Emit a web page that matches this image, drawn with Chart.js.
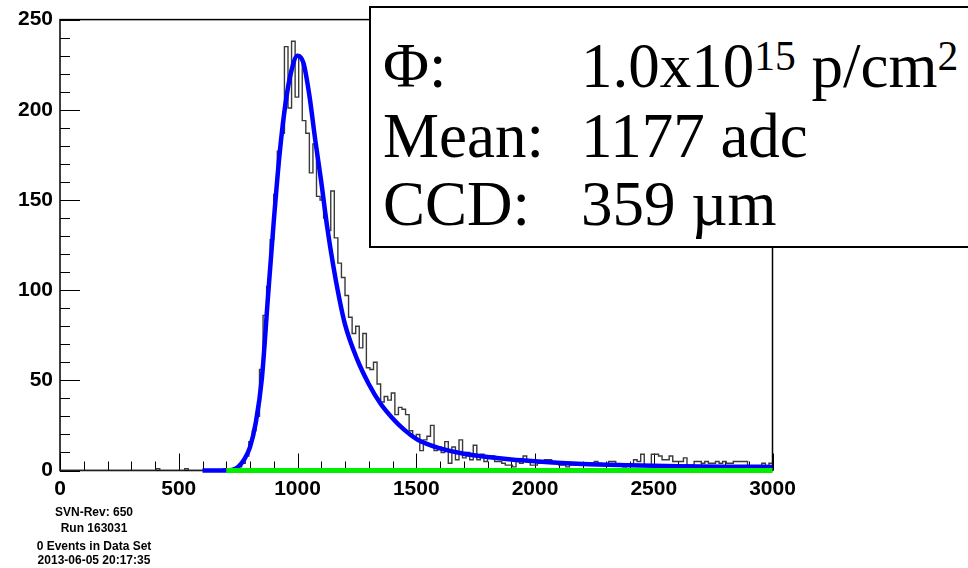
<!DOCTYPE html>
<html>
<head>
<meta charset="utf-8">
<title>adc</title>
<script src="https://cdn.jsdelivr.net/npm/chart.js@4.4.0/dist/chart.umd.min.js"></script>
<style>
    html, body { margin: 0; padding: 0; background: #fff; overflow: hidden; }
    #wrap { position: relative; width: 968px; height: 568px; overflow: hidden; }
    #graf { position: absolute; left: 0; top: 0; }
    #stats {
        position: absolute; left: 369px; top: 6px; width: 640px; height: 238px;
        border: 2px solid #000; background: #fff; color: #000;
        font-family: "Liberation Serif", "Times New Roman", serif;
    }
    .linha { position: absolute; left: 12px; font-size: 63px; line-height: 1; white-space: nowrap; }
    .linha .val { position: absolute; left: 198px; top: 0; }
    .linha sup { font-size: 0.66em; vertical-align: baseline; position: relative; top: -0.42em; }
    .rodape {
        position: absolute; left: 14px; width: 160px; text-align: center;
        font: bold 12px "Liberation Sans", Arial, sans-serif; line-height: 12px; color: #000;
    }
</style>
</head>
<body>
<div id="wrap">
    <canvas id="graf" width="968" height="568"></canvas>
    <div id="stats">
        <div class="linha" style="top:27px">&Phi;:<span class="val">1.0x10<sup>15</sup> p/cm<sup>2</sup></span></div>
        <div class="linha" style="top:97px">Mean:<span class="val">1177 adc</span></div>
        <div class="linha" style="top:165px">CCD:<span class="val">359 &micro;m</span></div>
    </div>
    <div class="rodape" style="top:506px">SVN-Rev: 650</div>
    <div class="rodape" style="top:522px">Run 163031</div>
    <div class="rodape" style="top:540px">0 Events in Data Set</div>
    <div class="rodape" style="top:554px">2013-06-05 20:17:35</div>
</div>
<script>
// histograma de 0 a 3000 adc, bins de 15
const BIN = 15;
const contagens = [
    0, 0, 0, 0, 0, 0, 0, 0, 0, 0,        // 0-135
    0, 0, 0, 0, 0, 0, 0, 0, 0, 0,        // 150-285
    0, 0, 0, 0, 0, 0, 0, 1, 0, 0,        // 300-435
    0, 0, 0, 0, 0, 1, 0, 0, 0, 0,        // 450-585
    0, 0, 0, 0, 0, 0, 1, 0, 0, 1,        // 600-735
    2, 4, 8, 16, 22, 30, 56, 86, 102, 128,   // 750-885
    153, 177, 187, 235, 201, 238, 207, 229, 194, 187, // 900-1035
    165, 181, 152, 150, 140, 133, 155, 129, 115, 107, // 1050-1185
    97, 85, 76, 80, 68, 76, 57, 56, 60, 48,  // 1200-1335
    38, 41, 39, 43, 31, 35, 34, 31, 22, 18,  // 1350-1485
    20, 11, 17, 19, 25, 11, 13, 10, 16, 4,   // 1500-1635
    13, 6, 17, 7, 10, 6, 14, 6, 9, 5,        // 1650-1785
    8, 8, 5, 5, 4, 3, 3, 2, 5, 4,            // 1800-1935
    8, 6, 3, 3, 4, 4, 6, 6, 5, 4,            // 1950-2085
    3, 3, 2, 3, 3, 3, 4, 4, 3, 4,            // 2100-2235
    5, 4, 3, 3, 5, 5, 3, 3, 2, 3,            // 2250-2385
    3, 6, 5, 9, 3, 3, 9, 9, 8, 6,            // 2400-2535
    6, 8, 5, 5, 5, 7, 3, 3, 5, 5,            // 2550-2685
    4, 5, 4, 4, 5, 4, 5, 4, 4, 5,            // 2700-2835
    5, 5, 5, 2, 2, 2, 2, 4, 2, 4             // 2850-2985
];

// curva do fit (azul), lida ponto a ponto
const fitX = [600, 700, 725, 750, 775, 800, 825, 850, 875, 900, 925, 950, 975, 1000, 1025,
    1050, 1075, 1100, 1125, 1150, 1175, 1200, 1250, 1300, 1350, 1400, 1450, 1500, 1550,
    1600, 1700, 1800, 1900, 2000, 2200, 2400, 2600, 2800, 3000];
const fitY = [0, 0, 0.3, 2, 6, 13, 27, 51, 95, 138, 176, 204, 222, 230, 226,
    208, 183, 160, 135, 114, 96, 81, 62, 48, 37, 29, 22.5, 17.5, 14.5,
    12.3, 9.3, 7.5, 6.1, 5.1, 3.6, 2.9, 2.4, 2.1, 2];

// linha verde na base
const baseX = [700, 3000];
const baseY = [0, 0];

const xTicks = [0, 500, 1000, 1500, 2000, 2500, 3000];
const yTicks = [0, 50, 100, 150, 200, 250];
const xMinor = 100;
const yMinor = 10;

function pontos(xs, ys) {
    return xs.map((x, i) => ({ x: x, y: ys[i] }));
}

const histo = contagens.map((c, i) => ({ x: i * BIN, y: c }));
histo.push({ x: contagens.length * BIN, y: contagens[contagens.length - 1] });

// moldura do ROOT com os ticks pra dentro
const moldura = {
    id: 'moldura',
    beforeDatasetsDraw(chart) {
        const { ctx, chartArea: a, scales } = chart;
        const sx = scales.x, sy = scales.y;
        ctx.save();
        ctx.strokeStyle = '#000';
        ctx.lineWidth = 1.5;
        ctx.strokeRect(a.left, a.top, a.right - a.left, a.bottom - a.top);
        ctx.lineWidth = 1;
        ctx.beginPath();
        for (let v = sx.min; v <= sx.max; v += xMinor) {
            const px = Math.round(sx.getPixelForValue(v)) + 0.5;
            const len = xTicks.includes(v) ? 17 : 9;
            ctx.moveTo(px, a.bottom);
            ctx.lineTo(px, a.bottom - len);
        }
        for (let v = sy.min; v <= sy.max; v += yMinor) {
            const py = Math.round(sy.getPixelForValue(v)) + 0.5;
            const len = yTicks.includes(v) ? 20 : 10;
            ctx.moveTo(a.left, py);
            ctx.lineTo(a.left + len, py);
        }
        ctx.stroke();
        ctx.restore();
    }
};

const fonteEixo = { family: "'Liberation Sans', Arial, sans-serif", weight: 'bold', size: 21 };

new Chart(document.getElementById('graf'), {
    type: 'line',
    data: {
        datasets: [
            {
                data: pontos(baseX, baseY),
                borderColor: '#00ee00',
                borderWidth: 5,
                pointRadius: 0,
                clip: false
            },
            {
                data: pontos(fitX, fitY),
                borderColor: '#0000ff',
                borderWidth: 4.5,
                pointRadius: 0,
                cubicInterpolationMode: 'monotone',
                clip: false
            },
            {
                data: histo,
                borderColor: '#3a3a3a',
                borderWidth: 1.4,
                pointRadius: 0,
                stepped: true
            }
        ]
    },
    options: {
        responsive: false,
        animation: false,
        events: [],
        layout: { padding: { left: 0, right: 195.5, top: 19, bottom: 0 } },
        plugins: { legend: { display: false }, tooltip: { enabled: false } },
        scales: {
            x: {
                type: 'linear',
                min: 0,
                max: 3000,
                grid: { display: false, drawTicks: false },
                border: { display: false },
                afterBuildTicks: (s) => { s.ticks = xTicks.map(v => ({ value: v })); },
                afterFit: (s) => { s.height = 97.5; },
                ticks: { color: '#000', font: fonteEixo, padding: 6, maxRotation: 0, autoSkip: false,
                    callback: (v) => String(v) }
            },
            y: {
                min: 0,
                max: 250,
                grid: { display: false, drawTicks: false },
                border: { display: false },
                afterBuildTicks: (s) => { s.ticks = yTicks.map(v => ({ value: v })); },
                afterFit: (s) => { s.width = 60; },
                ticks: { color: '#000', font: fonteEixo, padding: 7, callback: (v) => String(v) }
            }
        }
    },
    plugins: [moldura]
});
</script>
</body>
</html>
